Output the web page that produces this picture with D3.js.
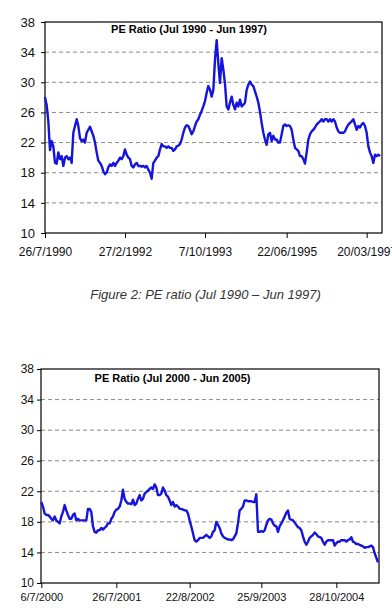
<!DOCTYPE html>
<html>
<head>
<meta charset="utf-8">
<script src="https://cdn.jsdelivr.net/npm/d3@7"></script>
<style>
    body { margin: 0; background: #fff; }
    svg { display: block; font-family: Arial, "Liberation Sans", sans-serif; }
</style>
</head>
<body>
<div id="chart"></div>
<script>
// values, one point per ~1.7px of the plot
const yTicks = [10, 14, 18, 22, 26, 30, 34, 38]

const title1990 = "PE Ratio (Jul 1990 - Jun 1997)"
const labels1990 = ["26/7/1990", "27/2/1992", "7/10/1993", "22/06/1995", "20/03/1997"]
const labelIdx1990 = [0, 48, 96, 145, 193]
const pe1990 = [
    28.0, 27.0, 24.8, 21.0, 22.2, 21.5, 19.3, 19.2, 20.7, 19.8,
    20.2, 18.9, 20.0, 20.2, 19.8, 20.0, 19.3, 23.3, 24.2, 25.1,
    24.2, 22.6, 22.2, 22.4, 22.0, 23.3, 23.7, 24.1, 23.5, 22.9,
    22.0, 20.7, 19.6, 19.3, 18.9, 18.2, 17.8, 18.0, 18.7, 19.1,
    18.9, 19.3, 18.9, 19.3, 19.6, 20.0, 19.8, 20.2, 21.1, 20.4,
    20.0, 19.8, 18.9, 18.7, 19.1, 19.3, 18.9, 18.9, 18.8, 18.9,
    18.7, 18.9, 18.4, 18.0, 17.2, 19.3, 19.6, 20.0, 20.2, 21.1,
    21.8, 21.5, 21.5, 21.3, 21.5, 21.3, 21.3, 20.9, 21.1, 21.5,
    21.6, 21.8, 22.4, 23.3, 24.0, 24.3, 24.2, 23.7, 23.1, 23.5,
    24.2, 24.8, 25.1, 25.7, 26.2, 26.8, 27.5, 28.6, 29.5, 29.0,
    28.1, 29.0, 33.0, 35.6, 32.5, 29.9, 33.2, 31.7, 29.8, 26.8,
    26.4, 27.3, 28.1, 27.0, 26.4, 27.3, 26.8, 27.7, 26.8, 27.0,
    27.3, 29.0, 29.7, 30.1, 29.7, 29.5, 28.8, 28.1, 27.3, 26.1,
    24.6, 23.3, 22.4, 21.7, 23.1, 23.3, 22.2, 22.9, 22.4, 22.4,
    22.0, 22.0, 23.1, 24.2, 24.4, 24.2, 24.3, 24.2, 23.7, 22.4,
    21.3, 21.1, 20.9, 20.2, 20.2, 19.8, 19.2, 20.7, 22.4, 23.1,
    23.5, 23.7, 24.0, 24.4, 24.6, 24.8, 25.1, 24.8, 25.1, 25.1,
    24.8, 25.1, 24.8, 25.1, 24.8, 24.0, 23.5, 23.3, 23.3, 23.3,
    23.5, 24.0, 24.4, 24.6, 24.8, 25.1, 24.4, 23.7, 24.2, 24.0,
    24.4, 24.6, 24.2, 23.3, 21.5, 20.7, 20.2, 19.3, 20.4, 20.2,
    20.4, 20.2
]

const title2000 = "PE Ratio (Jul 2000 - Jun 2005)"
const labels2000 = ["6/7/2000", "26/7/2001", "22/8/2002", "25/9/2003", "28/10/2004"]
const labelIdx2000 = [0, 45, 89, 132, 177]
const pe2000 = [
    20.6, 20.0, 19.1, 18.9, 18.9, 18.7, 18.4, 18.2, 18.7, 18.2,
    18.0, 17.8, 18.7, 19.3, 20.2, 19.5, 18.9, 18.4, 18.4, 18.9,
    19.1, 18.2, 18.4, 18.2, 18.2, 18.2, 18.2, 18.2, 19.7, 19.7,
    19.3, 17.4, 16.7, 16.6, 16.9, 16.9, 17.2, 17.0, 17.2, 17.4,
    17.8, 17.8, 18.4, 18.7, 19.3, 19.6, 19.7, 20.0, 20.8, 22.2,
    21.0, 20.6, 20.4, 20.4, 20.3, 20.9, 20.2, 20.4, 21.0, 21.5,
    20.8, 21.0, 21.7, 21.9, 22.1, 22.3, 22.5, 22.3, 22.9, 22.5,
    21.5, 21.5, 21.7, 22.5, 22.1, 21.5, 21.3, 20.8, 20.2, 20.6,
    20.0, 20.2, 20.0, 19.7, 19.7, 19.6, 19.5, 19.5, 19.1, 18.2,
    17.4, 16.5, 15.6, 15.4, 15.6, 15.9, 15.9, 15.9, 16.1, 16.3,
    16.1, 15.9, 16.1, 16.7, 16.9, 18.0, 17.6, 17.2, 16.5, 16.1,
    15.9, 15.8, 15.7, 15.7, 15.6, 15.7, 16.1, 16.5, 17.8, 19.5,
    19.7, 20.0, 20.8, 20.8, 20.7, 20.7, 20.7, 20.6, 20.6, 21.6,
    16.7, 16.7, 16.8, 16.7, 16.9, 17.6, 18.2, 18.4, 18.3, 17.8,
    17.5, 17.4, 16.7, 17.4, 17.8, 18.2, 18.7, 19.2, 19.5, 18.4,
    18.3, 18.2, 17.9, 17.6, 17.3, 17.2, 16.9, 16.1, 15.4, 15.0,
    15.4, 15.9, 16.1, 16.3, 16.6, 16.4, 16.1, 16.0, 15.9, 15.4,
    15.0, 15.4, 15.6, 15.6, 15.6, 15.6, 14.9, 15.2, 15.4, 15.4,
    15.6, 15.6, 15.6, 15.4, 15.6, 15.7, 16.0, 15.4, 15.3, 15.1,
    15.1, 15.0, 14.9, 14.8, 14.6, 14.7, 14.7, 14.8, 14.9, 14.7,
    13.9, 13.3, 12.7
]

const caption = "Figure 2: PE ratio (Jul 1990 \u2013 Jun 1997)"

const svg = d3.select('#chart')
    .append('svg')
    .attr('width', 392)
    .attr('height', 615)

const drawPanel = (p) => {
    const g = svg.append('g')

    const x = d3.scaleLinear()
        .domain([0, p.values.length - 1])
        .range([p.lineX0, p.lineX1])
    const y = d3.scaleLinear()
        .domain([10, 38])
        .range([p.bottom, p.top])

    // dashed gridlines (not on the frame edges)
    g.selectAll('line.grid')
        .data(yTicks.filter(t => t > 10 && t < 38))
        .enter().append('line')
        .attr('class', 'grid')
        .attr('x1', p.left)
        .attr('x2', p.right)
        .attr('y1', d => y(d))
        .attr('y2', d => y(d))
        .attr('stroke', '#8a8a8a')
        .attr('stroke-width', 1)
        .attr('stroke-dasharray', '4,3')

    // Add Y axis
    const yAx = g.append('g')
        .attr('transform', `translate(${p.left},0)`)
        .call(d3.axisLeft(y).tickValues(yTicks).tickSize(4).tickSizeOuter(0).tickPadding(p.yPad))
    yAx.select('.domain').remove()
    yAx.selectAll('text')
        .attr('font-size', p.yFont)
        .attr('font-family', 'Arial, "Liberation Sans", sans-serif')
        .attr('fill', '#111')

    // Add X axis
    const xAx = g.append('g')
        .attr('transform', `translate(0,${p.bottom})`)
        .call(d3.axisBottom(x)
            .tickValues(p.tickIdx)
            .tickFormat((d, i) => p.labels[i])
            .tickSize(5)
            .tickSizeOuter(0)
            .tickPadding(p.xPad))
    xAx.select('.domain').remove()
    xAx.selectAll('text')
        .attr('font-size', p.xFont)
        .attr('font-family', 'Arial, "Liberation Sans", sans-serif')
        .attr('fill', '#111')

    // frame
    g.append('rect')
        .attr('x', p.left)
        .attr('y', p.top)
        .attr('width', p.right - p.left)
        .attr('height', p.bottom - p.top)
        .attr('fill', 'none')
        .attr('stroke', '#000')
        .attr('stroke-width', 1.2)

    // the line
    g.append('path')
        .datum(p.values)
        .attr('fill', 'none')
        .attr('stroke', '#1414dc')
        .attr('stroke-width', 2.4)
        .attr('stroke-linejoin', 'round')
        .attr('d', d3.line()
            .x((d, i) => x(i))
            .y(d => y(d)))

    g.append('text')
        .attr('x', p.titleX)
        .attr('y', p.titleY)
        .attr('text-anchor', 'middle')
        .attr('font-size', 11)
        .attr('font-weight', 'bold')
        .attr('fill', '#000')
        .text(p.title)
}

drawPanel({
    values: pe1990, labels: labels1990, tickIdx: labelIdx1990, title: title1990,
    left: 45, right: 382, top: 22, bottom: 233, lineX0: 45, lineX1: 380,
    yFont: 13, xFont: 12, yPad: 6, xPad: 9, titleX: 189, titleY: 33
})

drawPanel({
    values: pe2000, labels: labels2000, tickIdx: labelIdx2000, title: title2000,
    left: 41, right: 379, top: 369, bottom: 583, lineX0: 41.3, lineX1: 378,
    yFont: 12, xFont: 11, yPad: 3, xPad: 5, titleX: 172.5, titleY: 382
})

svg.append('text')
    .attr('x', 205.5)
    .attr('y', 299)
    .attr('text-anchor', 'middle')
    .attr('font-size', 13)
    .attr('font-style', 'italic')
    .attr('fill', '#333')
    .text(caption)
</script>
</body>
</html>
